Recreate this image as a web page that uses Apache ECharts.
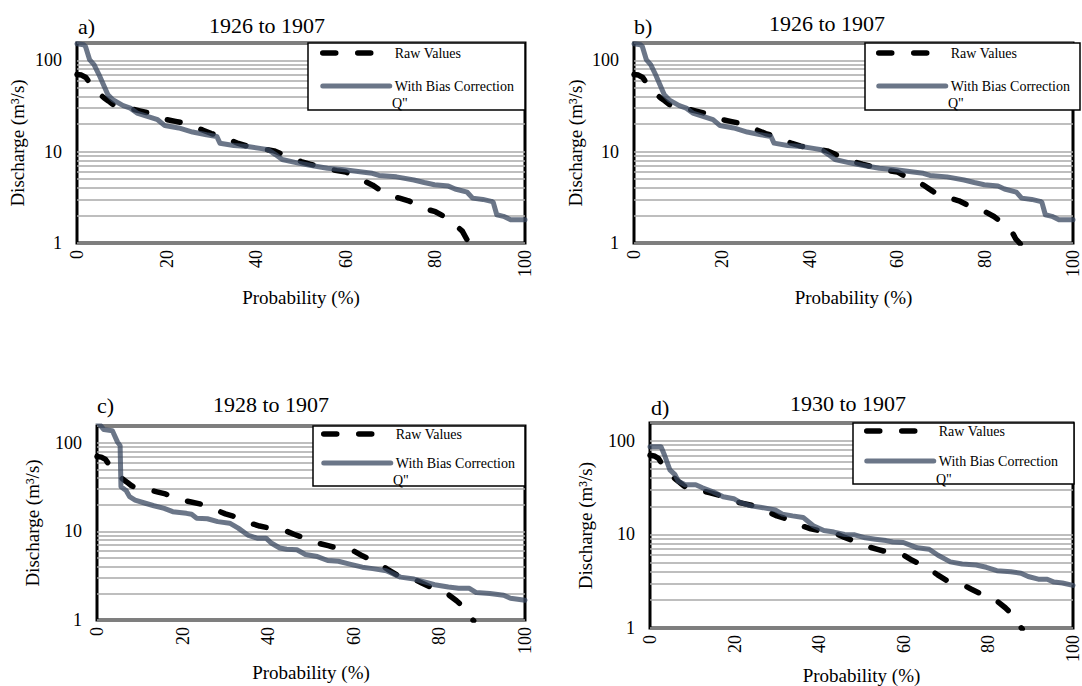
<!DOCTYPE html>
<html><head><meta charset="utf-8">
<script src="https://cdn.jsdelivr.net/npm/echarts@6/dist/echarts.min.js"></script>
<style>html,body{margin:0;padding:0;background:#fff}#c{width:1082px;height:686px}</style>
</head><body><div id="c"></div>
<script>
// ---- data ----
const panelLabels = ['a)', 'b)', 'c)', 'd)'];
const panelTitles = ['1926 to 1907', '1926 to 1907', '1928 to 1907', '1930 to 1907'];
const seriesNames = ['Raw Values', 'With Bias Correction Q"'];
const yTickValues = [1, 10, 100];
const xTickValues = [0, 20, 40, 60, 80, 100];
const minorGridValues = [2, 3, 4, 5, 6, 7, 8, 9, 20, 30, 40, 50, 60, 70, 80, 90];

const rawProb = [0,1,2,3,4,5,6,7,8,9,10,12,14,16,18,20,22,24,26,28,30,32,34,36,38,40,42,44,46,48,50,52,54,56,58,60,62,64,66,68,70,72,74,76,78,80,82,84,86,87,88];
const rawValues = [70,69,65,55,47,43,39,36,33,31,30.5,29.5,28,26.5,24,22.5,21.5,20.5,18.8,17.3,15.8,14.8,13.5,12.3,11.5,11.0,10.6,10.2,9.3,8.6,7.8,7.3,6.9,6.5,6.2,6.0,5.3,4.8,4.3,3.7,3.25,3.1,2.9,2.6,2.35,2.2,1.95,1.65,1.35,1.1,0.98];

const biasProbA = [0,1.5,1.9,2.8,3.8,4.9,6.9,8,10.3,11.9,13.4,15.7,18,19.6,22.7,25.8,28.9,31.2,31.9,35,38.1,41.2,42.7,44.3,45.8,48.9,52,55.9,59.7,63.6,65.9,67.4,71.3,75.2,77.5,79.8,82.9,84.4,87.1,88.3,90.6,92.5,92.9,93.7,95.2,96.8,100];
const biasValuesA = [152,148,142,102,90,70,42,37,32,30,26.5,24.4,22.4,19.3,18.2,16.4,15.3,14.7,12.4,11.7,11.4,10.8,10.5,9.3,8.2,7.6,7.1,6.6,6.35,6.0,5.8,5.5,5.3,4.9,4.6,4.35,4.2,3.9,3.6,3.1,3.0,2.86,2.8,2.04,1.96,1.8,1.8];
const biasProbB = [0,1.5,1.9,2.8,3.8,4.9,6.9,8,10.3,11.9,13.4,15.7,18,19.6,22.7,25.8,28.9,31.2,31.9,35,38.1,41.2,42.7,44.3,45.8,48.9,52,55.9,59.7,63.6,65.9,67.4,71.3,75.2,77.5,79.8,82.9,84.4,87.1,88.3,90.6,92.5,92.9,93.7,95.2,96.8,100];
const biasValuesB = [152,148,142,102,90,70,42,37,32,30,26.5,24.4,22.4,19.3,18.2,16.4,15.3,14.7,12.4,11.7,11.4,10.8,10.5,9.3,8.2,7.6,7.1,6.6,6.35,6.0,5.8,5.5,5.3,4.9,4.6,4.35,4.2,3.9,3.6,3.1,3.0,2.86,2.8,2.04,1.96,1.8,1.8];
const biasProbC = [0,1.6,3.6,4.8,5.4,5.6,6.8,7.6,8.9,11.3,13.3,15.7,17.7,20.9,22.1,23.3,25.8,28.2,31,33,35.4,37.4,39.5,40.7,42.7,44.3,46.7,48.7,51.5,53.9,56.4,58.8,62,64.4,67.6,70.9,74.1,76.5,78.9,82.1,84.5,87,88.6,91.8,95,96.6,100];
const biasValuesC = [175,141,137,102,93,32,29,24.7,22.6,20.8,19.5,18.2,16.7,16.0,15.6,14.1,13.9,12.9,12.4,10.9,9.0,8.4,8.4,7.4,6.5,6.3,6.2,5.5,5.2,4.7,4.6,4.3,3.95,3.8,3.6,3.05,2.9,2.7,2.5,2.36,2.28,2.28,2.04,1.99,1.9,1.76,1.67];
const biasProbD = [0,2.6,3.4,4.7,5.9,6.7,8.3,10.8,12.4,14.9,17.3,19.8,21.4,23.9,26.4,29.6,31.3,33.7,36.2,38.6,41.1,43.5,46,48.4,50.9,53.3,55.8,57.4,59.9,61.5,63.2,66,68.1,71,73.8,77.1,79.5,82,85.3,87.7,89.4,91.8,93.9,95.5,97.5,100];
const biasValuesD = [86.5,86.5,71,49,43.5,37,34,34,31.5,28.6,25.3,24.1,21.9,20.2,19.4,18.3,16.5,15.8,15.2,12.4,11.0,10.6,10.0,9.9,9.2,8.9,8.6,8.3,8.2,7.7,7.2,6.95,6.0,5.1,4.83,4.72,4.46,4.1,4.0,3.86,3.56,3.33,3.33,3.1,3.03,2.86];

const biasProbs = [biasProbA, biasProbB, biasProbC, biasProbD];
const biasValues = [biasValuesA, biasValuesB, biasValuesC, biasValuesD];

// ---- layout (positions / styles only) ----
const FONT = 'Liberation Serif, Times New Roman, serif';
const layout = [
  {left:77, top:43, w:448, h:200, yGap:50, xGap:45, labX:78, labY:15, titX:267, titY:14, boxX:308, boxH:67, iconX:320, row1:53, row2:86, qY:103},
  {left:634, top:43, w:446, h:200, yGap:49, xGap:45, labX:634, labY:15, titX:827, titY:12, boxX:865, boxH:67, iconX:876, row1:53, row2:86, qY:103},
  {left:97, top:426, w:428, h:194, yGap:55, xGap:43, labX:97, labY:394, titX:271, titY:393, boxX:313, boxH:60, iconX:321, row1:434, row2:463, qY:480},
  {left:650, top:423, w:424, h:209, yGap:55, xGap:32, labX:651, labY:396, titX:848, titY:392, boxX:853, boxH:61, iconX:864, row1:431, row2:461, qY:479}
];

const zip = (xs, ys) => xs.map((x, i) => [x, ys[i]]);

const grids = [], xAxes = [], yAxes = [], series = [], titles = [], legends = [], graphics = [];
layout.forEach((L, i) => {
  grids.push({left:L.left, top:L.top, width:L.w, height:L.h, show:true, borderColor:'#000', borderWidth:3, containLabel:false});
  xAxes.push({
    type:'value', gridIndex:i, min:xTickValues[0], max:xTickValues[xTickValues.length-1], interval:20,
    axisLine:{show:false}, axisTick:{show:false}, splitLine:{show:false},
    axisLabel:{rotate:90, fontSize:18, fontFamily:FONT, color:'#000', margin:7},
    name:'Probability (%)', nameLocation:'middle', nameGap:L.xGap,
    nameTextStyle:{fontSize:19, fontFamily:FONT, color:'#000'}
  });
  yAxes.push({
    type:'log', logBase:10, gridIndex:i, min:1, max:155,
    axisLine:{show:false}, axisTick:{show:false},
    splitLine:{show:true, lineStyle:{color:'#a8a8a8', width:1.5}},
    axisLabel:{fontSize:18, fontFamily:FONT, color:'#000', margin:15, showMaxLabel:false,
      formatter: v => { const r = Math.round(v); return (Math.abs(v - r) < 1e-6 && yTickValues.includes(r)) ? String(r) : ''; }},
    name:'Discharge (m³/s)', nameLocation:'middle', nameGap:L.yGap,
    nameTextStyle:{fontSize:19, fontFamily:FONT, color:'#000'}
  });
  series.push({
    type:'line', name:seriesNames[0], xAxisIndex:i, yAxisIndex:i, z:3,
    data: zip(rawProb, rawValues), symbol:'none', clip:true, silent:true,
    lineStyle:{color:'#000', width:5.5, type:[13, 22], cap:'round', join:'round'},
    itemStyle:{color:'#000'},
    markLine:{silent:true, z:1, symbol:['none','none'], label:{show:false}, animation:false,
      lineStyle:{color:'#a8a8a8', width:1.5, type:'solid'},
      emphasis:{disabled:true},
      data: minorGridValues.map(v => ({yAxis:v}))}
  });
  series.push({
    type:'line', name:seriesNames[1], xAxisIndex:i, yAxisIndex:i, z:4,
    data: zip(biasProbs[i], biasValues[i]), symbol:'none', clip:true, silent:true,
    lineStyle:{color:'rgb(58,72,96)', width:5, opacity:0.75, cap:'round', join:'round'},
    itemStyle:{color:'rgb(58,72,96)', opacity:0.75}
  });
  titles.push({text:panelLabels[i], left:L.labX, top:L.labY, padding:0,
    textStyle:{fontSize:22, fontWeight:'normal', fontFamily:FONT, color:'#000'}});
  titles.push({text:panelTitles[i], left:L.titX, top:L.titY, textAlign:'center', padding:0,
    textStyle:{fontSize:22, fontWeight:'normal', fontFamily:FONT, color:'#000'}});
  legends.push({
    orient:'vertical', left:L.iconX, top:L.row1 - 7, padding:0, z:20,
    itemWidth:67, itemHeight:14, itemGap:(L.row2 - L.row1) - 14,
    selectedMode:false,
    data: seriesNames,
    formatter: n => n === seriesNames[1] ? 'With Bias Correction' : n,
    lineStyle:{width:'inherit', type:'inherit', cap:'round'},
    itemStyle:{opacity:0, borderWidth:0},
    textStyle:{fontSize:14, fontFamily:FONT, color:'#000'}
  });
  const right = L.left + L.w;
  graphics.push({type:'rect', z:15, silent:true,
    shape:{x:L.boxX, y:L.top, width:right - L.boxX, height:L.boxH},
    style:{fill:'#fff', stroke:'#000', lineWidth:1.5}});
  graphics.push({type:'text', z:21, silent:true, x:L.iconX + 72, y:L.qY,
    style:{text:'Q"', fontSize:14, fontFamily:FONT, fill:'#000', verticalAlign:'middle'}});
});

const chart = echarts.init(document.getElementById('c'), null, {renderer:'svg'});
chart.setOption({
  animation:false,
  backgroundColor:'#fff',
  textStyle:{fontFamily:FONT, color:'#000'},
  title:titles, grid:grids, xAxis:xAxes, yAxis:yAxes, legend:legends,
  series:series, graphic:graphics
});
</script></body></html>
